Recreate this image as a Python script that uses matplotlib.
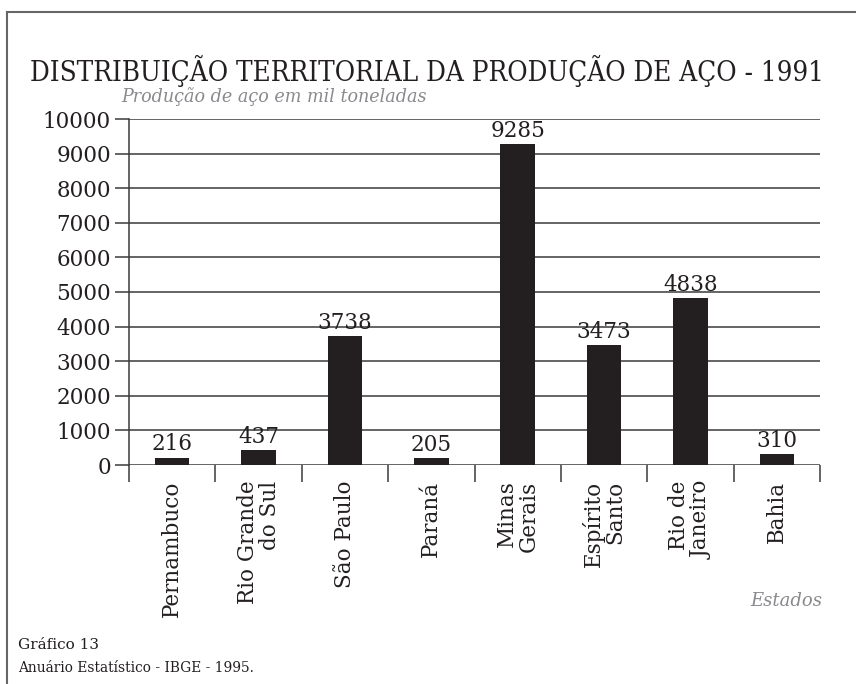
import matplotlib
matplotlib.use("Agg")
import matplotlib.pyplot as plt
from matplotlib.lines import Line2D
import numpy as np

estados = ["Pernambuco", "Rio Grande\ndo Sul", "São Paulo", "Paraná",
           "Minas\nGerais", "Espírito\nSanto", "Rio de\nJaneiro", "Bahia"]
producao = [216, 437, 3738, 205, 9285, 3473, 4838, 310]
yticks = [0, 1000, 2000, 3000, 4000, 5000, 6000, 7000, 8000, 9000, 10000]

SERIF = "DejaVu Serif"
INK = "#231f20"
GRID = "#3a3a3a"
GRAY = "#8a8a8e"

fig = plt.figure(figsize=(8.56, 6.84), dpi=100)
ax = fig.add_axes([129 / 856, 1 - 465 / 684, 691 / 856, 346 / 684])

x = np.arange(len(estados))
ax.bar(x, producao, width=0.4, color=INK, zorder=3)

for xi, v in zip(x, producao):
    ax.text(xi, v + 60, str(v), ha="center", va="bottom",
            family=SERIF, fontsize=15.5, color=INK)

ax.set_xlim(-0.5, len(estados) - 0.5)
ax.set_ylim(0, 10000)
ax.set_yticks(yticks)
ax.set_yticklabels([str(t) for t in yticks], family=SERIF, fontsize=15.5, color=INK)
ax.yaxis.grid(True, color=GRID, linewidth=1.1, zorder=0)
ax.tick_params(axis="y", length=10, width=1.1, color=GRID, pad=3)

for s in ["top", "right", "bottom"]:
    ax.spines[s].set_visible(False)
ax.spines["left"].set_color(GRID)
ax.spines["left"].set_linewidth(1.1)

# category separators below the baseline
ax.set_xticks(np.arange(-0.5, len(estados), 1.0))
ax.set_xticklabels([])
ax.tick_params(axis="x", length=12, width=1.1, color=GRID, direction="out")

for xi, name in zip(x, estados):
    ax.text(xi, -0.045, name, transform=ax.get_xaxis_transform(),
            rotation=90, ha="center", va="top", family=SERIF,
            fontsize=15.5, color=INK, linespacing=1.0, multialignment="right")

fig.text(30 / 856, 1 - 71 / 684, "DISTRIBUIÇÃO TERRITORIAL DA PRODUÇÃO DE AÇO - 1991",
         family=SERIF, fontstretch="condensed", fontsize=19.9, color=INK,
         ha="left", va="center")
fig.text(121 / 856, 1 - 97 / 684, "Produção de aço em mil toneladas",
         family=SERIF, fontstretch="condensed", style="italic", fontsize=14,
         color=GRAY, ha="left", va="center")
fig.text(822 / 856, 1 - 601 / 684, "Estados",
         family=SERIF, style="italic", fontsize=13, color=GRAY,
         ha="right", va="center")
fig.text(18 / 856, 1 - 645 / 684, "Gráfico 13",
         family=SERIF, fontsize=11, color=INK, ha="left", va="center")
fig.text(18 / 856, 1 - 668 / 684, "Anuário Estatístico - IBGE - 1995.",
         family=SERIF, fontsize=9.9, color=INK, ha="left", va="center")

# page frame
fig.add_artist(Line2D([7 / 856, 7 / 856], [0, 1 - 12 / 684],
                      transform=fig.transFigure, color="#666666", linewidth=1.5))
fig.add_artist(Line2D([7 / 856, 1], [1 - 12 / 684, 1 - 12 / 684],
                      transform=fig.transFigure, color="#666666", linewidth=1.5))

fig.savefig("out.png", dpi=100, facecolor="white")
